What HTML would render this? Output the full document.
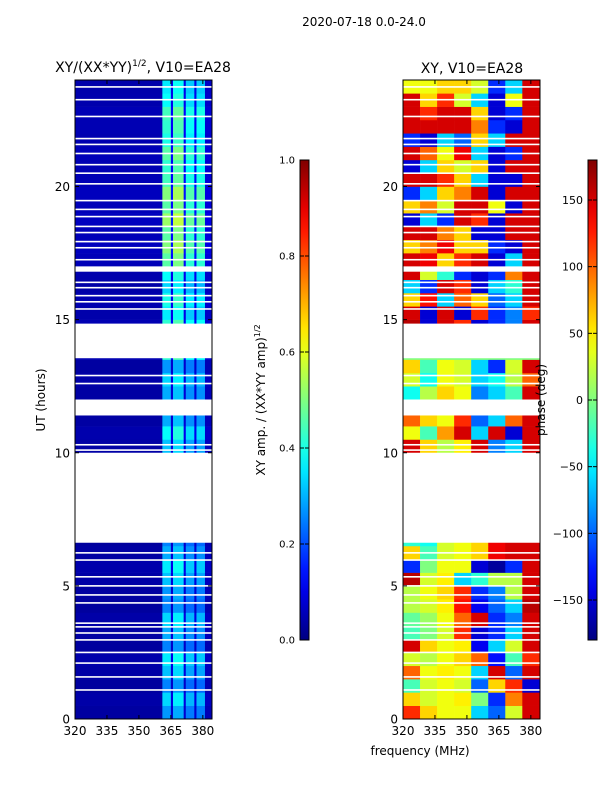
<!DOCTYPE html>
<html><head><meta charset="utf-8"><style>
body{margin:0;background:#fff;width:600px;height:800px;overflow:hidden}
svg text{font-family:"DejaVu Sans","Liberation Sans",sans-serif;fill:#000}
</style></head><body>
<svg id="fig" width="600" height="800" xmlns="http://www.w3.org/2000/svg">
<text x="364" y="26" font-size="12" text-anchor="middle">2020-07-18 0.0-24.0</text>
<text x="143" y="72" font-size="14" text-anchor="middle">XY/(XX*YY)<tspan font-size="9" dy="-6">1/2</tspan><tspan dy="6">, V10=EA28</tspan></text>
<text x="472" y="73" font-size="14" text-anchor="middle">XY, V10=EA28</text>
<text transform="translate(45,400) rotate(-90)" font-size="12" text-anchor="middle">UT (hours)</text>
<text x="420" y="755" font-size="12" text-anchor="middle">frequency (MHz)</text>
<text transform="translate(265,400) rotate(-90)" font-size="12" text-anchor="middle">XY amp. / (XX*YY amp)<tspan font-size="8" dy="-5">1/2</tspan></text>
<g id="amp"></g>
<g id="ph"></g>
<text transform="translate(545,400) rotate(-90)" font-size="12" text-anchor="middle">phase (deg)</text>
<g id="cb"></g>
<g id="ax"></g>
</svg>
<script>
const ampBandStart=[320,361,365,366,371,372,376,377,381];
const ampBandEnd  =[361,365,366,371,372,376,377,381,384.3];
const ampBandValue=[0.05,0.42,0.12,0.45,0.12,0.38,0.12,0.38,0.08];
const ampRowScale=[0.65,0.8,0.6,0.75,0.85,0.6,0.7,0.8,0.6,0.65,0.75,0.85,0.7,0.6,1,1,1,1,1,1,
0.75,0.9,0.7,1,0.7,0.8,0.65,1,1,1,0.85,0.95,0.8,0.9,1.1,1.2,1.1,1.25,1.1,1.2,1.05,1.0,1.1,0.95,1.0,1.05,0.9,0.85];
const phaseBinEdges=[320,328,336,344,352,360,368,376,384.3];
const phaseRows=[
[120,60,40,40,-60,-100,30,150],[60,30,40,50,0,-120,90,150],[-20,30,40,30,-100,60,120,-150],[100,40,50,40,-60,150,-100,150],
[30,20,40,60,100,-130,-20,120],[150,60,40,50,-140,-60,30,150],[-20,0,30,120,-150,-120,-60,150],[-10,10,40,100,150,-120,-90,150],
[20,30,50,130,-140,-100,-60,160],[20,40,60,120,-120,-90,20,150],[160,30,50,-60,-30,20,20,150],[-120,0,40,40,-150,-170,-120,150],
[60,-20,30,40,60,140,150,150],[-30,-40,30,40,60,140,150,150],
[0,0,0,0,0,0,0,0],[0,0,0,0,0,0,0,0],[0,0,0,0,0,0,0,0],[0,0,0,0,0,0,0,0],[0,0,0,0,0,0,0,0],[0,0,0,0,0,0,0,0],
[150,60,20,50,150,-90,-60,150],[40,-20,80,150,-60,150,-150,150],[100,60,40,120,-100,-60,100,150],[0,0,0,0,0,0,0,0],
[-40,20,60,40,-90,-60,-20,150],[30,-40,40,30,-60,-40,20,100],[60,-20,40,30,-60,-120,30,150],
[0,0,0,0,0,0,0,0],[0,0,0,0,0,0,0,0],[160,-150,150,120,-150,-120,-90,150],
[150,-150,150,-150,120,-120,-90,120],[60,130,-60,100,60,-100,-60,150],[-60,-120,150,120,-150,-60,-30,150],[150,30,-30,-120,-150,-120,90,150],
[150,140,60,120,150,-150,-60,150],[60,90,140,60,60,-120,-150,150],[150,150,90,60,-150,-150,150,150],[-150,-60,-120,150,120,-150,150,150],
[60,90,30,150,150,40,-150,150],[-120,-60,60,90,150,-150,150,150],[150,150,120,60,-60,-150,-150,150],[-150,-60,60,30,60,-150,150,150],
[150,100,40,140,-60,-150,-120,150],[-120,-150,-60,-100,60,-60,150,150],[150,150,150,150,90,-120,-150,150],[150,120,150,150,60,-150,-120,150],
[150,60,120,30,-60,-150,40,150],[40,40,60,60,30,-120,-60,150]];
const gapStart=[6.62,11.4,13.55,16.8];
const gapEnd=[10.0,12.0,14.85,17.0];
const thinGaps=[1.09,1.58,2.1,2.5,2.97,3.23,3.46,3.6,4.36,4.66,5.0,5.34,5.97,6.24,10.1,10.3,12.6,12.9,15.4,15.67,15.9,16.2,16.4,17.25,17.7,17.93,18.27,18.5,18.87,19.14,19.47,20.1,20.5,20.82,21.24,21.58,21.8,22.63,23.26,23.74];
const hourTicks=[0,5,10,15,20];
const freqTicks=[320,335,350,365,380];
const ampTicks=[0.0,0.2,0.4,0.6,0.8,1.0];
const phaseTicks=[-150,-100,-50,0,50,100,150];

const NS="http://www.w3.org/2000/svg";
const T0=80,T1=719,FMIN=320,FMAX=384.3;
const yH=h=>T1-(T1-T0)*h/24;
const xF=(x0,f)=>x0+137*(f-FMIN)/(FMAX-FMIN);
function jet(v){v=Math.max(0,Math.min(1,v));
 const r=Math.min(4*v-1.5,-4*v+4.5),g=Math.min(4*v-0.5,-4*v+3.5),b=Math.min(4*v+0.5,-4*v+2.5);
 const c=x=>Math.round(255*Math.max(0,Math.min(1,x)));return `rgb(${c(r)},${c(g)},${c(b)})`;}
function mk(p,tag,a){const e=document.createElementNS(NS,tag);for(const k in a)e.setAttribute(k,a[k]);p.appendChild(e);return e;}
const amp=document.getElementById('amp'),ph=document.getElementById('ph'),cb=document.getElementById('cb'),ax=document.getElementById('ax');
for(let i=0;i<48;i++){
 const y1=yH(i*0.5),y0=yH(i*0.5+0.5);
 for(let b=0;b<ampBandStart.length;b++){
  const x0=xF(75,ampBandStart[b]),x1=xF(75,ampBandEnd[b]);
  const r=mk(amp,'rect',{x:x0,y:y0,width:x1-x0+0.3,height:y1-y0+0.3,fill:jet(ampBandValue[b]*ampRowScale[i])});
  
  
 }
 for(let b=0;b<8;b++){
  const x0=xF(403,phaseBinEdges[b]),x1=xF(403,phaseBinEdges[b+1]);
  const r=mk(ph,'rect',{x:x0,y:y0,width:x1-x0+0.3,height:y1-y0+0.3,fill:jet((phaseRows[i][b]+180)/360)});
  
  
 }
}
[75,403].forEach(x0=>{
 const g=x0===75?amp:ph;
 gapStart.forEach((s,k)=>{const r=mk(g,'rect',{x:x0,y:yH(gapEnd[k]),width:137,height:yH(s)-yH(gapEnd[k]),fill:'#fff'});
  
  });
 thinGaps.forEach(h=>{const r=mk(g,'rect',{x:x0,y:yH(h)-0.8,width:137,height:1.6,fill:'#fff'});
  
  });
});
const defs=mk(cb,'defs',{});const lg=mk(defs,'linearGradient',{id:'jg',x1:0,y1:1,x2:0,y2:0});
for(let s=0;s<=20;s++)mk(lg,'stop',{offset:s/20,'stop-color':jet(s/20)});
[[300,'amp-colorbar'],[588,'phase-colorbar']].forEach(([x,n])=>{
 const r=mk(cb,'rect',{x:x,y:160,width:9,height:480,fill:'url(#jg)',stroke:'#000','stroke-width':1});
 
 
});
ampTicks.forEach(v=>{const y=640-480*v;
 mk(cb,'line',{x1:300,x2:304,y1:y,y2:y,stroke:'#000'});mk(cb,'line',{x1:305,x2:309,y1:y,y2:y,stroke:'#000'});
 const t=mk(cb,'text',{x:295,y:y+3.5,'font-size':10,'text-anchor':'end'});t.textContent=v.toFixed(1);
 
 });
phaseTicks.forEach(v=>{const y=640-480*(v+180)/360;
 mk(cb,'line',{x1:588,x2:592,y1:y,y2:y,stroke:'#000'});mk(cb,'line',{x1:593,x2:597,y1:y,y2:y,stroke:'#000'});
 const t=mk(cb,'text',{x:583,y:y+4,'font-size':11,'text-anchor':'end'});t.textContent=v<0?'\u2212'+(-v):v;
 
 });
[[75,'left'],[403,'right']].forEach(([x0,n])=>{
 const f=mk(ax,'rect',{x:x0,y:T0,width:137,height:T1-T0,fill:'none',stroke:'#000','stroke-width':1});
 
 
 hourTicks.forEach(h=>{const y=yH(h);
  mk(ax,'line',{x1:x0,x2:x0+4,y1:y,y2:y,stroke:'#000'});mk(ax,'line',{x1:x0+133,x2:x0+137,y1:y,y2:y,stroke:'#000'});
  const t=mk(ax,'text',{x:x0-5,y:y+4.5,'font-size':12,'text-anchor':'end'});t.textContent=h;
  
  });
 freqTicks.forEach(fq=>{const x=xF(x0,fq);
  mk(ax,'line',{x1:x,x2:x,y1:T1,y2:T1-4,stroke:'#000'});mk(ax,'line',{x1:x,x2:x,y1:T0,y2:T0+4,stroke:'#000'});
  const t=mk(ax,'text',{x:x,y:T1+16,'font-size':12,'text-anchor':'middle'});t.textContent=fq;
  
  });
});
</script>
</body></html>
